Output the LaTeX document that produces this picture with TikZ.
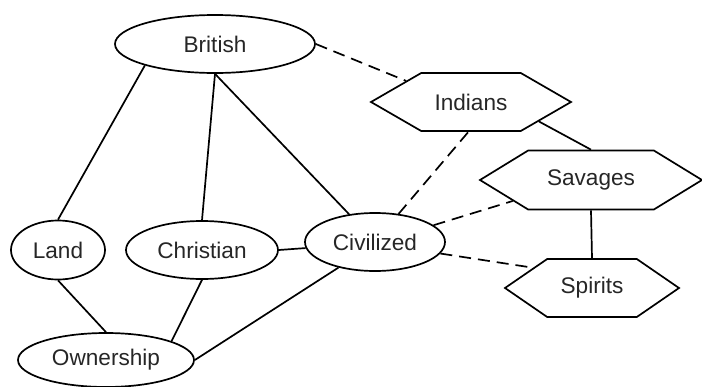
\documentclass[tikz,border=0pt]{standalone}
\usepackage{fontspec}
\setmainfont{Liberation Sans}
\usetikzlibrary{shapes.geometric,shapes.symbols}
\begin{document}
\begin{tikzpicture}[x=1pt,y=-1pt,
  every node/.style={font=\fontsize{22.6}{26}\selectfont, line width=1.7pt, inner sep=0pt, text=black!85},
  ell/.style={draw, ellipse},
  hex/.style={draw, signal, signal to=west and east},
  link/.style={line width=1.7pt},
  dlink/.style={link, dash pattern=on 12pt off 7pt}]
\useasboundingbox (0,0) rectangle (702,386);
\node[ell, minimum width=200pt, minimum height=58pt] (british) at (215,44) {British};
\node[ell, minimum width=94pt, minimum height=59pt] (land) at (58,250) {Land};
\node[ell, minimum width=152pt, minimum height=58pt] (christian) at (202,250) {Christian};
\node[ell, minimum width=140pt, minimum height=58pt] (civilized) at (375,242) {Civilized};
\node[ell, minimum width=176pt, minimum height=54pt] (ownership) at (106,360) {Ownership};
\node[hex, signal pointer angle=60, minimum width=200pt, minimum height=58pt] (indians) at (471,102) {Indians};
\node[hex, signal pointer angle=63, minimum width=222pt, minimum height=59pt] (savages) at (591,180) {Savages};
\node[hex, signal pointer angle=69, minimum width=174pt, minimum height=58pt] (spirits) at (592,288) {Spirits};
\draw[link] (british.197) -- (land.north);
\draw[link] (british.south) -- (christian.north);
\draw[link] (british.south) -- (civilized.133);
\draw[link] (christian.east) -- (civilized.185);
\draw[link] (land.south) -- (ownership.north);
\draw[link] (christian.south) -- (ownership.16);
\draw[link] (civilized.215) -- (ownership.east);
\draw[link] (indians.344) -- (savages.north);
\draw[link] (savages.south) -- (spirits.north);
\draw[dlink] (british.east) -- (indians.162);
\draw[dlink] (civilized.50) -- (indians.265);
\draw[dlink] (civilized.16) -- (savages.195);
\draw[dlink] (civilized.350) -- (spirits.161);
\end{tikzpicture}
\end{document}
